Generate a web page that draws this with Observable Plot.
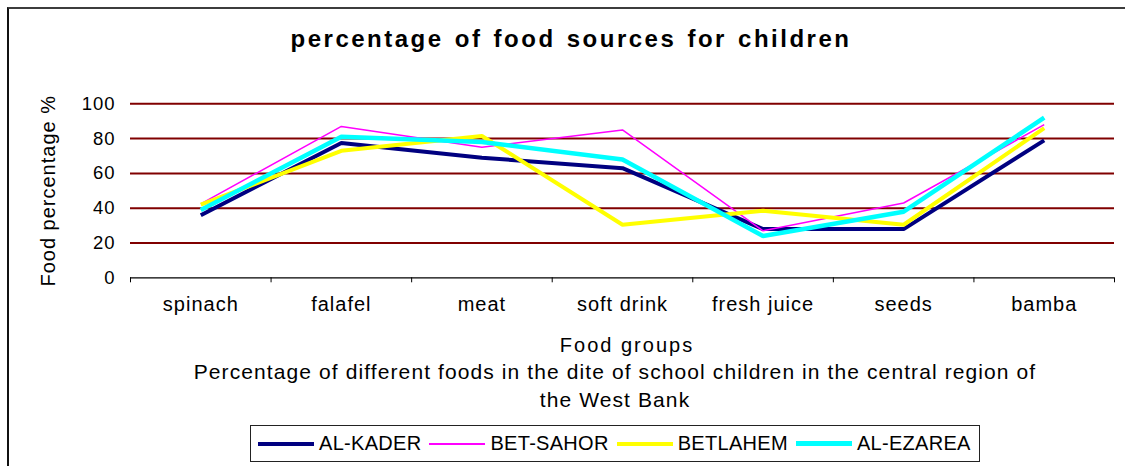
<!DOCTYPE html>
<html>
<head>
<meta charset="utf-8">
<script src="https://cdn.jsdelivr.net/npm/d3@7"></script>
<script src="https://cdn.jsdelivr.net/npm/@observablehq/plot@0.6"></script>
<style>
  html, body { margin: 0; padding: 0; background: #fff; }
  #chart {
    position: relative; width: 1125px; height: 466px; overflow: hidden;
    background: #fff; font-family: "Liberation Sans", Arial, sans-serif; color: #000;
  }
  #frame {
    position: absolute; left: 7px; top: 7px; right: -4px; bottom: -4px;
    border-top: 2px solid #3c3c3c; border-left: 2px solid #111;
  }
  #title {
    position: absolute; left: 0; width: 1142px; top: 25px; line-height: 28px;
    text-align: center; font-weight: bold; font-size: 24px; letter-spacing: 2.5px; word-spacing: 2px;
  }
  #plot { position: absolute; left: 0; top: 85px; }
  #xlabel {
    position: absolute; left: 327px; width: 600px; top: 331px; line-height: 28px;
    text-align: center; font-size: 20px; letter-spacing: 2px;
  }
  #caption {
    position: absolute; left: 165px; width: 900px; top: 358px; line-height: 28px;
    text-align: center; font-size: 21px; letter-spacing: 1.1px;
  }
  #legend {
    position: absolute; left: 250px; top: 425px; height: 37px; box-sizing: border-box;
    border: 1px solid #222; display: flex; align-items: center;
    padding: 0 8px 0 7px; font-size: 20px; letter-spacing: 0.3px; white-space: nowrap;
  }
  #legend .key { display: inline-block; width: 56px; margin-right: 5px; }
  #legend .item { margin-right: 8px; }
  #legend .item:last-child { margin-right: 0; }
  #plot text { letter-spacing: 1px; }
</style>
</head>
<body>
<div id="chart">
  <div id="frame"></div>
  <div id="title">percentage of food sources for children</div>
  <div id="plot"></div>
  <div id="xlabel">Food groups</div>
  <div id="caption">Percentage of different foods in the dite of school children in the central region of<br>the West Bank</div>
  <div id="legend"></div>
</div>
<script>
// Food groups along the x axis
const categories = ["spinach", "falafel", "meat", "soft drink", "fresh juice", "seeds", "bamba"];

// Percentage of children reporting each food, by area
const alKader  = [36, 77.5, 69, 63, 28, 28, 79];
const betSahor = [42.5, 87, 75, 85, 27, 43, 88];
const betlahem = [42, 73, 81.5, 30.5, 38.5, 30.5, 86];
const alEzarea = [39, 81, 78, 68, 24, 38, 92];

const seriesNames = ["AL-KADER", "BET-SAHOR", "BETLAHEM", "AL-EZAREA"];
const seriesValues = [alKader, betSahor, betlahem, alEzarea];

// y axis tick values
const yTicks = [0, 20, 40, 60, 80, 100];
const gridValues = [20, 40, 60, 80, 100];

// Line styling per area
const lineColors = ["#000080", "#ff00ff", "#ffff00", "#00ffff"];
const lineWidths = [4, 1.5, 4, 4.5];

// Each food group sits in the middle of a unit-wide band: i + 0.5
const rows = seriesNames.map((name, s) =>
  seriesValues[s].map((value, i) => ({series: name, pos: i + 0.5, value}))
);

const chart = Plot.plot({
  width: 1125,
  height: 245,
  marginLeft: 130,
  marginRight: 11,
  marginTop: 18.3,
  marginBottom: 52.7,
  style: {fontFamily: "Liberation Sans, Arial, sans-serif", fontSize: "18px", color: "#000", background: "transparent", overflow: "visible"},
  x: {type: "linear", domain: [0, categories.length], axis: null},
  y: {type: "linear", domain: [0, 100], axis: null},
  marks: [
    Plot.ruleY(gridValues, {stroke: "#800000", strokeWidth: 2}),
    Plot.ruleY([0], {stroke: "#000", strokeWidth: 1.2}),
    // band boundary ticks below the baseline
    Plot.axisX(d3.range(categories.length + 1), {tickSize: 5, tickFormat: () => "", stroke: "#000", label: null}),
    // category names centred in each band
    Plot.axisX(categories.map((c, i) => i + 0.5), {
      tickSize: 0, tickPadding: 19, fontSize: 20, label: null,
      tickFormat: v => categories[Math.floor(v)]
    }),
    Plot.axisY(yTicks, {tickSize: 0, tickPadding: 15, fontSize: 18.5, label: null}),
    Plot.text(["Food percentage %"], {
      frameAnchor: "left", textAnchor: "middle", lineAnchor: "middle",
      rotate: -90, dx: -82, fontSize: 20, text: d => d
    }),
    ...rows.map((data, s) =>
      Plot.line(data, {x: "pos", y: "value", stroke: lineColors[s], strokeWidth: lineWidths[s], strokeLinejoin: "miter", strokeLinecap: "butt"})
    )
  ]
});
document.getElementById("plot").appendChild(chart);

// Legend: a short line sample followed by the area name
const legend = document.getElementById("legend");
seriesNames.forEach((name, s) => {
  const key = document.createElement("span");
  key.className = "key";
  key.style.height = Math.max(2, lineWidths[s]) + "px";
  key.style.background = lineColors[s];
  const label = document.createElement("span");
  label.className = "item";
  label.textContent = name;
  legend.appendChild(key);
  legend.appendChild(label);
});
</script>
</body>
</html>
